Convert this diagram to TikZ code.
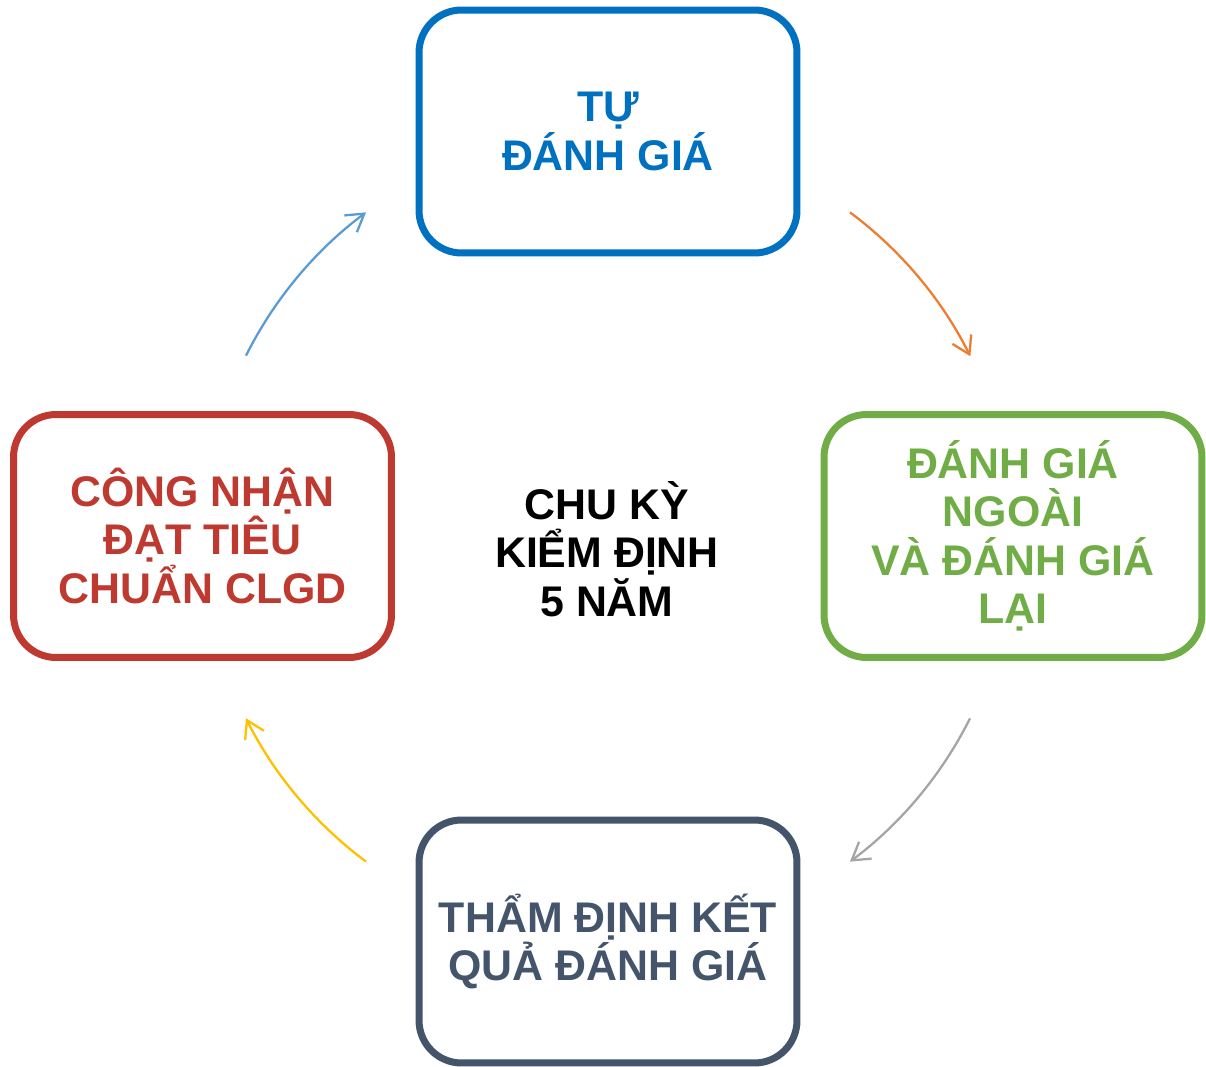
\documentclass[tikz,border=0pt]{standalone}
\usepackage{fontspec}
\setmainfont{Liberation Sans}
\usetikzlibrary{arrows.meta}
\definecolor{tuBlue}{HTML}{0070C0}
\definecolor{ngGreen}{HTML}{70AD47}
\definecolor{tdSlate}{HTML}{44546A}
\definecolor{cnRed}{HTML}{BE3A31}
\definecolor{arOrange}{HTML}{ED7D31}
\definecolor{arGray}{HTML}{A5A5A5}
\definecolor{arYellow}{HTML}{FFC000}
\definecolor{arBlue}{HTML}{5B9BD5}
\begin{document}
\begin{tikzpicture}[x=0.02cm, y=0.02cm,
    stage/.style={draw, line width=0.14cm, rounded corners=0.85cm,
        minimum width=7.56cm, minimum height=4.86cm, align=center,
        font=\bfseries\fontsize{24.4}{27.6}\selectfont},
    cycarrow/.style={line width=1.3pt, -{Straight Barb[length=0.34cm, width=0.42cm]}}]
\useasboundingbox (0,0) rectangle (1206,-1067);
% the four stages
\node[stage, tuBlue] (tu) at (608,-131.5) {TỰ\\ĐÁNH GIÁ};
\node[stage, ngGreen] (ngoai) at (1013,-536) {ĐÁNH GIÁ\\NGOÀI\\VÀ ĐÁNH GIÁ\\LẠI};
\node[stage, tdSlate] (tham) at (608,-941.5) {THẨM ĐỊNH KẾT\\QUẢ ĐÁNH GIÁ};
\node[stage, cnRed] (cong) at (202.5,-536) {CÔNG NHẬN\\ĐẠT TIÊU\\CHUẨN CLGD};
% centre
\coordinate (hub) at (608,-537);
\node[font=\bfseries\fontsize{24.4}{27.6}\selectfont, align=center] (chuky) at (607,-549) {CHU KỲ\\KIỂM ĐỊNH\\5 NĂM};
% arrows round the cycle
\coordinate (a1) at ([shift={(53.3:8.1cm)}]hub);
\coordinate (a2) at ([shift={(-26.6:8.1cm)}]hub);
\coordinate (a3) at ([shift={(-126.7:8.1cm)}]hub);
\coordinate (a4) at ([shift={(153.4:8.1cm)}]hub);
\draw[cycarrow, arOrange] (a1) arc[start angle=53.3, end angle=26.5, radius=8.1cm];
\draw[cycarrow, arGray] (a2) arc[start angle=-26.6, end angle=-53.3, radius=8.1cm];
\draw[cycarrow, arYellow] (a3) arc[start angle=-126.7, end angle=-153.4, radius=8.1cm];
\draw[cycarrow, arBlue] (a4) arc[start angle=153.4, end angle=126.7, radius=8.1cm];
\end{tikzpicture}
\end{document}
